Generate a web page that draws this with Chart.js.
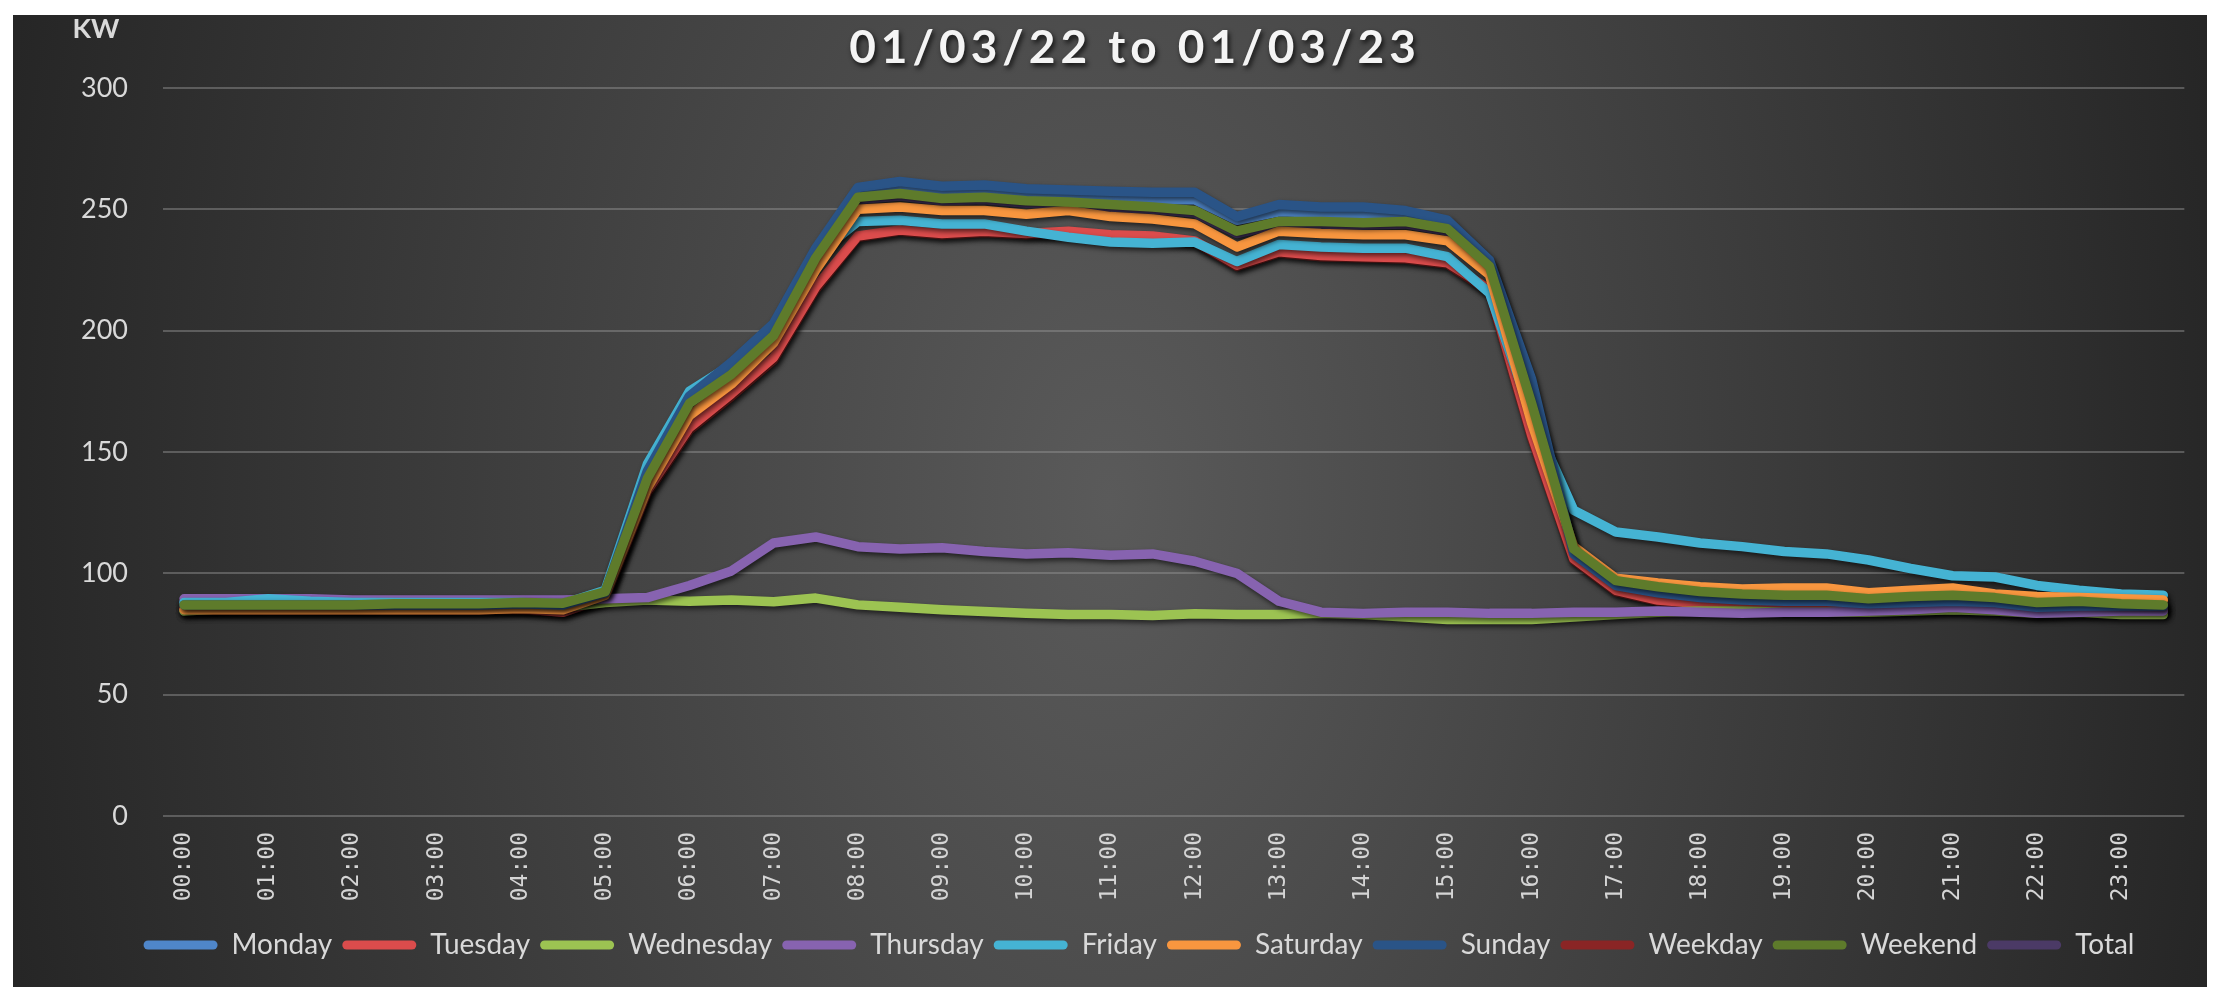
<!DOCTYPE html>
<html>
<head>
<meta charset="utf-8">
<script src="https://cdn.jsdelivr.net/npm/chart.js@4.4.1/dist/chart.umd.min.js"></script>
<style>
  html, body { margin: 0; padding: 0; background: #ffffff; width: 2227px; height: 987px; overflow: hidden; }
  #wrap { position: absolute; left: 13px; top: 15px; width: 2194px; height: 972px; }
  canvas { display: block; }
</style>
</head>
<body>
<div id="wrap"><canvas id="c" width="2194" height="972"></canvas></div>
<script>
const chartTitle = '01/03/22 to 01/03/23';
const unitLabel = 'KW';

const times = ['00:00','00:30','01:00','01:30','02:00','02:30','03:00','03:30','04:00','04:30',
  '05:00','05:30','06:00','06:30','07:00','07:30','08:00','08:30','09:00','09:30',
  '10:00','10:30','11:00','11:30','12:00','12:30','13:00','13:30','14:00','14:30',
  '15:00','15:30','16:00','16:30','17:00','17:30','18:00','18:30','19:00','19:30',
  '20:00','20:30','21:00','21:30','22:00','22:30','23:00','23:30'];

const hourTicks = ['00:00','01:00','02:00','03:00','04:00','05:00','06:00','07:00','08:00','09:00',
  '10:00','11:00','12:00','13:00','14:00','15:00','16:00','17:00','18:00','19:00',
  '20:00','21:00','22:00','23:00'];

const yTicks = [0, 50, 100, 150, 200, 250, 300];

const monday = [88,88,88.5,88,88,88,88,88,88,87.5,
  92,140,172,184,200,233,257,259,257,258,
  256,256,255,254,254,245.5,249,248.5,248,247.5,
  243.5,228,176,108,95,93,91,90,90,89.5,
  88.5,89.5,89.5,89,87.5,88,87.5,87];

const tuesday = [85,85,85,85,85,85,85,85,85.5,84,
  90,134,160,174,189,218,239,241.5,240,241,
  240,241,239.5,239,237,227,232.5,231,230.5,230,
  228,217,157,106,93,89,87.5,86.5,86,85.5,
  85.5,85.5,86,85.5,84.5,85,85,85];

const wednesday = [84.5,85.5,86,86,86,86,86,86.5,86.5,86,
  88,89,88.5,89,88.3,89.8,87,86,85,84.3,
  83.6,83,83,82.6,83.3,83,83,83.5,83,82,
  81,81,81,82,83,84,84.5,84.5,84,84,
  84,84.5,85,84.5,83.5,84,83,83];

const thursday = [89.5,89.5,89.5,89.5,89,89,89,89,89,89,
  89.5,90,95,101,112.5,115,111,110,110.5,109,
  108,108.5,107.5,108,105,100,88.5,84,83.5,84,
  84,83.5,83.5,84,84,84.5,84,83.5,84,84,
  84.5,85,86,85,83.5,84,84.5,84.5];

const friday = [88,88,89.5,88.5,88,88,88,88,88,87.5,
  93,145,175,186,201,231,245,245.5,244,244,
  241,238.5,236.5,236,236.5,228.5,235.5,234.5,234,234,
  230.5,215.5,165,126,117,115,112.5,111,109,108,
  105.5,102,99,98.5,95,93,91.5,91];

const saturday = [85,85,85,85,85,85,85,85,85.5,85,
  91,135,165,178,195,225,250,251,249.5,249.5,
  248,249.5,247,246,244,234.5,241,240,239.5,239.5,
  237,223,162,111,98,96,94.5,93.5,94,94,
  92,93,94,91.5,90.5,90,89.5,89];

const sunday = [87,87,87,87,87,87,87,87,87.5,87,
  92,142,173,187,203,234,259,261.5,259.5,260,
  258.5,258,257.5,257,257,247,252,251,251,249.5,
  245.5,229,180,108,95,92,90,89,88.5,88.5,
  87.5,88,88.5,88,86,86.5,86.5,86.5];

const weekday = [85,85,85,85,85,85,85,85,85,84,
  89.5,133,159,173,188,217,238.5,241,239.5,240.5,
  239.5,240.5,239,238.5,236.5,226.5,232,230.5,230,229.5,
  227.5,216,156,105.5,92.5,88.5,87,86,85.5,85,
  85,85,85.5,85,84,84.5,84.5,84.5];

const weekend = [87,87,87,87,87,87.5,87.5,87.5,88,87.7,
  92.4,139,170,182,198,230,255,256.5,254.5,255,
  253.5,253,252,251,249.5,241,245,245,244.5,245,
  242,226.5,170,110,97,94.5,92.5,91.5,91,91,
  89.5,90.5,91,90,88,88.5,87.5,87];

const total = [86.5,86.5,86.5,86.5,86.5,87,87,87,87.5,87,
  91.5,138,169,181,197,229,254,255.5,253.5,254,
  252.5,252,251,250,248.5,240,244,244,243.5,244,
  241,225.5,169,109,96,93.5,91.5,90.5,90,90,
  88.5,89.5,90,89,87,87.5,86.5,86];

const seriesNames = ['Monday','Tuesday','Wednesday','Thursday','Friday','Saturday','Sunday','Weekday','Weekend','Total'];
const seriesValues = [monday, tuesday, wednesday, thursday, friday, saturday, sunday, weekday, weekend, total];
const seriesColors = ['#4F86C9','#DB4C4C','#9CC352','#8763B0','#45B3D3','#F8963F','#2A5487','#8A2525','#5E7B2B','#4B3A66'];
// lower = drawn on top
const drawOrder = [8, 7, 6, 5, 4, 3, 2, 10, 1, 9];

const PAD_LEFT = 69;
const AXIS_RIGHT = 150;

const bgPlugin = {
  id: 'bg',
  beforeDraw(chart) {
    const {ctx, width, height} = chart;
    ctx.save();
    const cx = width / 2, cy = height / 2;
    ctx.translate(cx, cy);
    ctx.scale(1, 1.7);
    const R = 1150;
    const g = ctx.createRadialGradient(0, 0, 0, 0, 0, R);
    g.addColorStop(0, '#5a5a5a');
    g.addColorStop(1, '#252525');
    ctx.fillStyle = g;
    ctx.fillRect(-cx, -cy / 1.7 - 10, width, height / 1.7 + 20);
    ctx.restore();

    ctx.save();
    ctx.font = 'bold 46px Lato';
    ctx.letterSpacing = '5px';
    ctx.textAlign = 'center';
    ctx.textBaseline = 'middle';
    ctx.fillStyle = '#f4f4f4';
    ctx.shadowColor = 'rgba(0,0,0,0.75)';
    ctx.shadowBlur = 5;
    ctx.shadowOffsetX = 2;
    ctx.shadowOffsetY = 3;
    ctx.fillText(chartTitle, 1122, 33);
    ctx.restore();

    ctx.save();
    ctx.font = 'bold 27px Lato';
    ctx.textAlign = 'center';
    ctx.textBaseline = 'middle';
    ctx.fillStyle = '#d9d9d9';
    ctx.fillText(unitLabel, 83, 14);
    ctx.restore();
  }
};

const shadowPlugin = {
  id: 'lineShadow',
  beforeDatasetDraw(chart) {
    const ctx = chart.ctx;
    ctx.save();
    ctx.shadowColor = 'rgba(0,0,0,0.6)';
    ctx.shadowBlur = 5;
    ctx.shadowOffsetX = 2;
    ctx.shadowOffsetY = 3;
  },
  afterDatasetDraw(chart) {
    chart.ctx.restore();
  }
};

const datasets = seriesNames.map((name, k) => ({
  label: name,
  data: seriesValues[k],
  borderColor: seriesColors[k],
  backgroundColor: seriesColors[k],
  borderWidth: 9.5,
  order: drawOrder[k],
  pointRadius: 0,
  tension: 0,
  borderJoinStyle: 'round',
  borderCapStyle: 'round',
  fill: false
}));

new Chart(document.getElementById('c'), {
  type: 'line',
  data: { labels: times, datasets },
  options: {
    responsive: false,
    animation: false,
    events: [],
    layout: { padding: { left: PAD_LEFT, right: 11, top: 73, bottom: 18 } },
    plugins: {
      title: { display: false },
      tooltip: { enabled: false },
      legend: {
        position: 'bottom',
        labels: {
          color: '#d9d9d9',
          font: { family: 'Lato', size: 28 },
          boxWidth: 74,
          boxHeight: 9,
          padding: 10,
          useBorderRadius: true,
          borderRadius: 4.5,
          sort: (a, b) => a.datasetIndex - b.datasetIndex,
          generateLabels(chart) {
            const items = Chart.defaults.plugins.legend.labels.generateLabels(chart);
            return items.map(it => Object.assign(it, {
              fillStyle: seriesColors[it.datasetIndex],
              strokeStyle: seriesColors[it.datasetIndex],
              lineWidth: 0
            }));
          }
        }
      }
    },
    scales: {
      x: {
        offset: true,
        grid: { display: false, drawTicks: false },
        border: { display: false },
        ticks: {
          autoSkip: false,
          minRotation: 90,
          maxRotation: 90,
          padding: 16,
          color: '#d4d4d4',
          font: { family: 'DejaVu Sans Mono', size: 23 },
          callback: (v, i) => (i % 2 === 0 ? hourTicks[i / 2] : '')
        },
        afterFit: s => { s.height = 105; }
      },
      y: {
        min: yTicks[0],
        max: yTicks[yTicks.length - 1],
        grid: { color: 'rgba(150,150,150,0.45)', lineWidth: 2, drawTicks: false },
        border: { display: false },
        ticks: {
          stepSize: 50,
          padding: 35,
          color: '#d9d9d9',
          font: { family: 'Lato', size: 27 }
        },
        afterFit: s => { s.width = AXIS_RIGHT - PAD_LEFT; }
      }
    }
  },
  plugins: [bgPlugin, shadowPlugin]
});
</script>
</body>
</html>
